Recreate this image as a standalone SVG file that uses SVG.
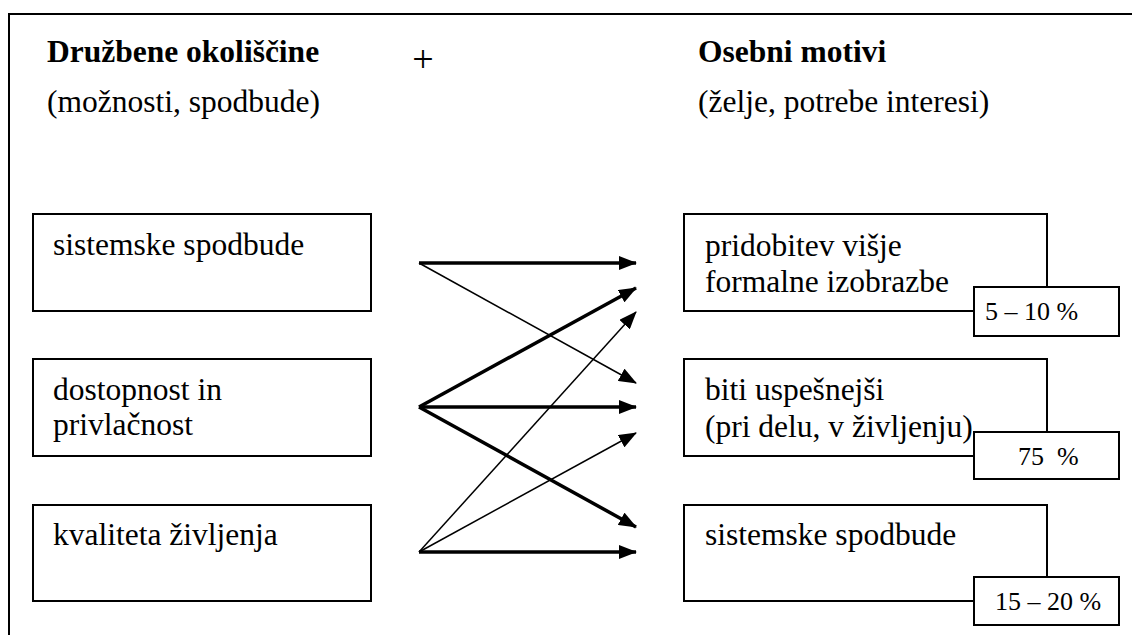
<svg xmlns="http://www.w3.org/2000/svg" width="1132" height="635" viewBox="0 0 1132 635" font-family="'Liberation Serif', 'Times New Roman', 'DejaVu Serif', serif">
<defs>
<style>
text{font-family:"Liberation Serif","Times New Roman","DejaVu Serif",serif;font-size:31.5px;fill:#000}
.b{font-weight:bold}
.pc{font-size:26px}
.box{fill:#fff;stroke:#000;stroke-width:2}
.thick{stroke:#000;stroke-width:3.5;fill:none}
.thin{stroke:#000;stroke-width:1.5;fill:none}
</style>
<marker id="ah" markerUnits="userSpaceOnUse" markerWidth="18" markerHeight="14" refX="17" refY="7" orient="auto" viewBox="0 0 18 14"><path d="M0,0 L18,7 L0,14 Z" fill="#000"/></marker>
</defs>
<rect width="1132" height="635" fill="#fff"/>
<path d="M9,635 V14 H1132" fill="none" stroke="#000" stroke-width="2"/>
<g id="headers">
<text class="b" x="47" y="62">Družbene okoliščine</text>
<text x="47" y="112">(možnosti, spodbude)</text>
<text x="423" y="72" text-anchor="middle" style="font-size:38px">+</text>
<text class="b" x="698" y="62">Osebni motivi</text>
<text x="698" y="112">(želje, potrebe interesi)</text>
</g>
<g id="L1"><rect class="box" x="33" y="214" width="338" height="97"/><text x="53" y="255">sistemske spodbude</text></g>
<g id="L2"><rect class="box" x="33" y="359" width="338" height="97"/><text x="53" y="400">dostopnost in</text><text x="53" y="435">privlačnost</text></g>
<g id="L3"><rect class="box" x="33" y="505" width="338" height="96"/><text x="53" y="545">kvaliteta življenja</text></g>
<g id="R1"><rect class="box" x="684" y="214" width="363" height="97"/><text x="705" y="256">pridobitev višje</text><text x="705" y="292">formalne izobrazbe</text></g>
<g id="P1"><rect class="box" x="974" y="287" width="145" height="49"/><text class="pc" x="985" y="320">5 – 10 %</text></g>
<g id="R2"><rect class="box" x="684" y="359" width="363" height="97"/><text x="705" y="400">biti uspešnejši</text><text x="705" y="437">(pri delu, v življenju)</text></g>
<g id="P2"><rect class="box" x="974" y="432" width="145" height="47"/><text class="pc" x="1018" y="465" xml:space="preserve">75  %</text></g>
<g id="R3"><rect class="box" x="684" y="505" width="363" height="96"/><text x="705" y="545">sistemske spodbude</text></g>
<g id="P3"><rect class="box" x="974" y="577" width="145" height="48"/><text class="pc" x="995" y="610">15 – 20 %</text></g>
<g id="connectors">
<line class="thick" x1="419" y1="263" x2="636" y2="263" marker-end="url(#ah)"/>
<line class="thin" x1="419" y1="263" x2="636" y2="383" marker-end="url(#ah)"/>
<line class="thick" x1="419" y1="407" x2="636" y2="288" marker-end="url(#ah)"/>
<line class="thick" x1="419" y1="407" x2="636" y2="407" marker-end="url(#ah)"/>
<line class="thick" x1="419" y1="407" x2="636" y2="527" marker-end="url(#ah)"/>
<line class="thin" x1="419" y1="552" x2="636" y2="312" marker-end="url(#ah)"/>
<line class="thin" x1="419" y1="552" x2="636" y2="433" marker-end="url(#ah)"/>
<line class="thick" x1="419" y1="552" x2="636" y2="552" marker-end="url(#ah)"/>
</g>
</svg>
